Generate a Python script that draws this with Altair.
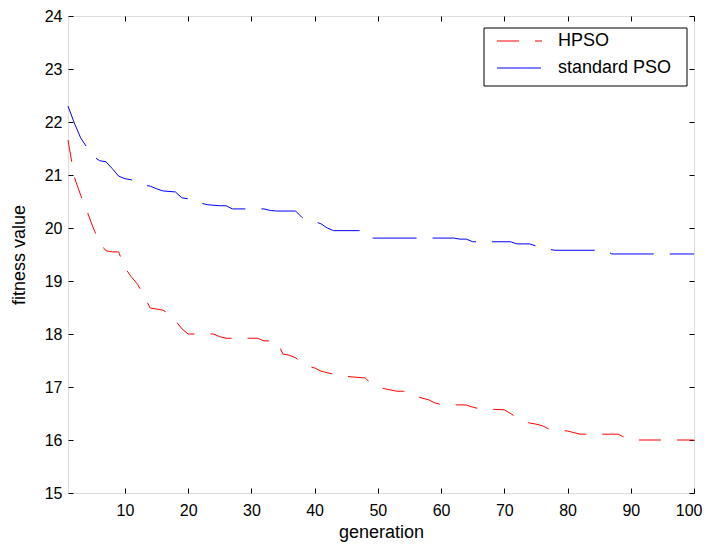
import altair as alt
import pandas as pd

# standard PSO breakpoints
pso_gen = [1, 2, 3, 4, 5, 6, 7, 8, 9, 10, 11, 12, 13, 14, 15, 16, 18, 19, 20, 21, 22, 23, 25, 26, 27,
           32, 33, 34, 37, 38, 39, 40, 41, 42, 43, 47, 48, 49, 62, 63, 64, 65, 71, 72, 74, 75, 76, 77,
           78, 86, 87, 100]
pso_val = [22.30, 21.98, 21.70, 21.52, 21.35, 21.27, 21.25, 21.12, 20.98, 20.93, 20.91, 20.85, 20.81,
           20.79, 20.74, 20.70, 20.68, 20.57, 20.55, 20.55, 20.47, 20.44, 20.42, 20.42, 20.36,
           20.36, 20.33, 20.32, 20.32, 20.20, 20.15, 20.12, 20.08, 20.00, 19.95, 19.95, 19.94, 19.81,
           19.81, 19.79, 19.79, 19.74, 19.74, 19.70, 19.70, 19.66, 19.64, 19.60,
           19.58, 19.58, 19.51, 19.51]

# HPSO breakpoints
hpso_gen = [1, 2, 3, 4, 5, 6, 7, 8, 9, 10, 11, 12, 13, 14, 15, 16, 17, 18, 19, 20, 24, 25, 26, 31, 32,
            34, 35, 36, 37, 38, 39, 40, 41, 42, 44, 45, 48, 49, 50, 51, 53, 54, 55, 56, 57, 58, 59,
            60, 64, 65, 66, 70, 71, 72, 73, 74, 75, 76, 77, 78, 80, 81, 82, 88, 89, 90, 100]
hpso_val = [21.66, 20.96, 20.62, 20.32, 20.00, 19.72, 19.57, 19.55, 19.55, 19.25, 19.08, 18.94, 18.72,
            18.49, 18.47, 18.45, 18.38, 18.25, 18.10, 18.00, 18.00, 17.95, 17.92, 17.92, 17.87,
            17.87, 17.62, 17.60, 17.55, 17.45, 17.39, 17.36, 17.30, 17.27, 17.21, 17.20, 17.17, 17.06,
            17.00, 16.97, 16.92, 16.92, 16.90, 16.83, 16.79, 16.76, 16.70,
            16.67, 16.66, 16.62, 16.59, 16.57, 16.50, 16.42, 16.36, 16.32, 16.30, 16.27, 16.21, 16.19,
            16.17, 16.14, 16.11, 16.11, 16.05, 16.00, 16.00]

series_names = ["HPSO", "standard PSO"]
series_colors = ["#ff0000", "#0000ff"]
series_dash = [[22, 16], [44, 16]]
x_ticks = [10, 20, 30, 40, 50, 60, 70, 80, 90, 100]
y_ticks = [15, 16, 17, 18, 19, 20, 21, 22, 23, 24]

df = pd.concat([
    pd.DataFrame({"gen": hpso_gen, "value": hpso_val, "series": "HPSO"}),
    pd.DataFrame({"gen": pso_gen, "value": pso_val, "series": "standard PSO"}),
])

W, H = 626, 477
FONT = "Liberation Sans"

xscale = alt.Scale(domain=[1, 100], nice=False, zero=False)
yscale = alt.Scale(domain=[15, 24], nice=False, zero=False)

lines = alt.Chart(df).mark_line(strokeWidth=1, interpolate="linear").encode(
    x=alt.X("gen:Q", scale=xscale, title="generation",
            axis=alt.Axis(values=x_ticks, offset=-5, domain=False, tickSize=5, tickColor="black",
                          labelPadding=9, grid=False, labelFontSize=16, titleFontSize=18,
                          labelFont=FONT, titleFont=FONT, titleFontWeight="normal",
                          labelFlush=True, labelFlushOffset=8, labelOverlap=False,
                          labelColor="black", titleColor="black", titlePadding=5)),
    y=alt.Y("value:Q", scale=yscale, title="fitness value",
            axis=alt.Axis(values=y_ticks, offset=-5, domain=False, tickSize=5, tickColor="black",
                          labelPadding=6, grid=False, labelFontSize=16, titleFontSize=18,
                          labelFont=FONT, titleFont=FONT, titleFontWeight="normal",
                          labelFlush=False, labelOverlap=False,
                          labelColor="black", titleColor="black", titlePadding=16)),
    color=alt.Color("series:N", scale=alt.Scale(domain=series_names, range=series_colors), legend=None),
    strokeDash=alt.StrokeDash("series:N", scale=alt.Scale(domain=series_names, range=series_dash), legend=None),
)

mirror = alt.Chart(df).mark_line(opacity=0).encode(
    x=alt.X("gen:Q", scale=xscale, title=None,
            axis=alt.Axis(orient="top", values=x_ticks, offset=-5, domain=False, tickSize=5,
                          tickColor="black", labels=False, grid=False)),
    y=alt.Y("value:Q", scale=yscale, title=None,
            axis=alt.Axis(orient="right", values=y_ticks, offset=-5, domain=False, tickSize=5,
                          tickColor="black", labels=False, grid=False)),
)

leg_box = alt.Chart(pd.DataFrame({"a": [0]})).mark_rect(
    fill="white", stroke="black", strokeWidth=1
).encode(x=alt.value(416), x2=alt.value(619), y=alt.value(12), y2=alt.value(70))

leg_lines = []
leg_texts = []
for i, name in enumerate(series_names):
    yy = 25 + i * 27
    leg_lines.append(
        alt.Chart(pd.DataFrame({"series": [name]})).mark_rule(
            color=series_colors[i], strokeDash=series_dash[i], strokeWidth=1
        ).encode(x=alt.value(429), x2=alt.value(474), y=alt.value(yy))
    )
    leg_texts.append(
        alt.Chart(pd.DataFrame({"series": [name]})).mark_text(
            align="left", baseline="middle", font=FONT, fontSize=18, color="black"
        ).encode(x=alt.value(490), y=alt.value(yy), text="series:N")
    )

chart = alt.layer(lines, mirror, leg_box, *leg_lines, *leg_texts).resolve_scale(
    x="independent", y="independent"
).properties(
    width=W, height=H, autosize=alt.AutoSizeParams(type="none"),
    padding={"left": 60, "top": 8, "right": 9, "bottom": 50},
).configure_view(stroke="black", strokeWidth=1).configure(background="white")

chart.save("out.html", embed_options={"renderer": "svg", "actions": False})
